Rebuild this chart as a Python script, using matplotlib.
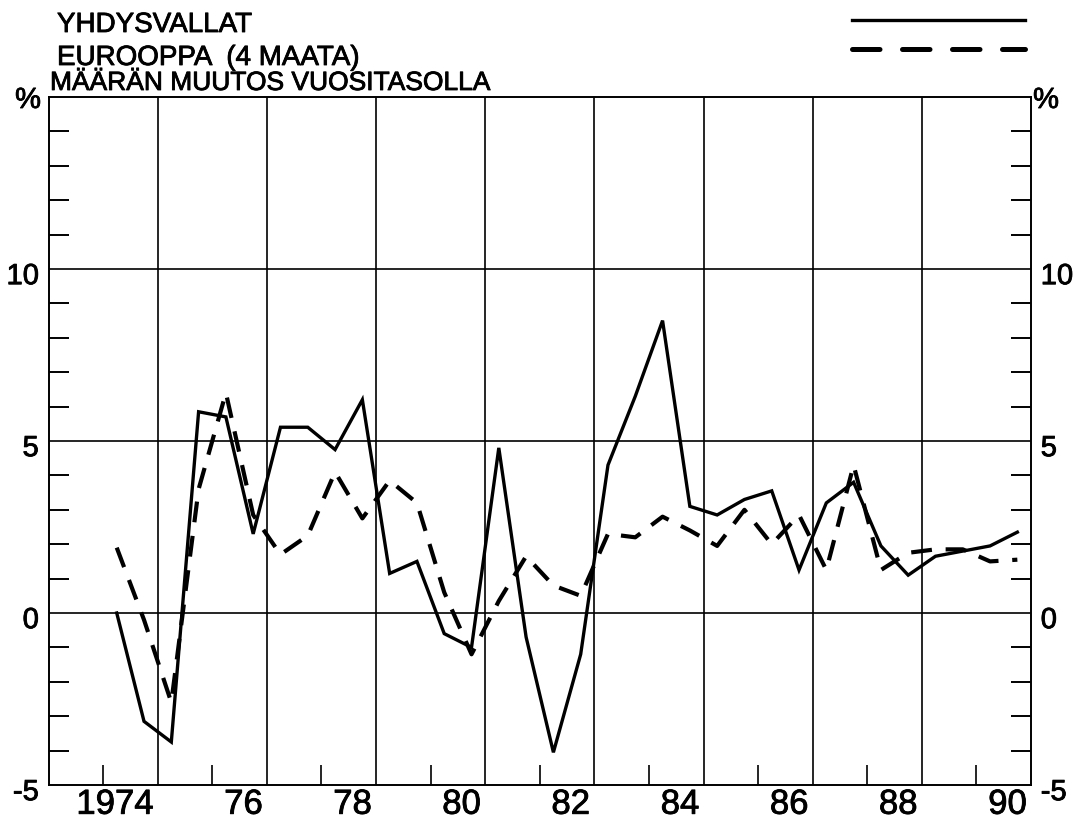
import matplotlib
matplotlib.use("Agg")
import matplotlib.pyplot as plt
import matplotlib.transforms as mtrans
import matplotlib.patheffects as pe
from matplotlib.lines import Line2D
import numpy as np

# puolivuosittaiset havainnot, sijoitettu puolivuoden keskelle
t = np.arange(1974.25, 1991.0, 0.5)

usa = [0.0, -3.15, -3.75, 5.85, 5.7, 2.3, 5.4, 5.4, 4.75, 6.2,
       1.15, 1.5, -0.6, -1.0, 4.8, -0.7, -4.05, -1.2, 4.3, 6.3,
       8.5, 3.1, 2.85, 3.3, 3.55, 1.25, 3.2, 3.8, 1.95, 1.1,
       1.65, 1.8, 1.95, 2.35]

eur = [1.9, -0.2, -2.6, 3.6, 6.4, 2.85, 1.7, 2.25, 4.1, 2.75,
       3.85, 3.2, 0.6, -1.2, 0.35, 1.65, 0.8, 0.5, 2.3, 2.2,
       2.8, 2.4, 1.95, 3.0, 2.0, 2.85, 1.25, 4.3, 1.25, 1.75,
       1.85, 1.85, 1.5, 1.55]

x_gridvuodet = [1975, 1977, 1979, 1981, 1983, 1985, 1987, 1989, 1991]
x_nimet = ['1974', '76', '78', '80', '82', '84', '86', '88', '90']
y_arvot = [-5, 0, 5, 10]
y_nimet = ['-5', '0', '5', '10']

plt.rcParams['font.family'] = ['Liberation Sans', 'DejaVu Sans']

W, H = 1078, 824
fig = plt.figure(figsize=(W / 100, H / 100), dpi=100)
ax = fig.add_axes([48.5 / W, 1 - 785 / H, (1031 - 48.5) / W, (785 - 97) / H])

ax.plot(t, usa, color='black', lw=2.4, solid_joinstyle='miter')
ax.plot(t, eur, color='black', lw=3.0, linestyle=(0, (5.0, 3.3)))

ax.set_xlim(1973, 1991)
ax.set_ylim(-5, 15)

# ruudukko
for g in x_gridvuodet[:-1]:
    ax.axvline(g, color='black', lw=1.2, zorder=0)
for v in [0, 5, 10]:
    ax.axhline(v, color='black', lw=1.2, zorder=0)

ax.set_xticks(x_gridvuodet)
ax.set_xticklabels(x_nimet, fontsize=25)
ax.set_xticks(np.arange(1974, 1991, 2), minor=True)
ax.tick_params(axis='x', which='major', length=0, pad=2)
ax.tick_params(axis='x', which='minor', direction='in', length=14.4, width=1.2)
siirto = mtrans.ScaledTranslation(-3 / 72, 0, fig.dpi_scale_trans)
for lbl in ax.get_xticklabels():
    lbl.set_ha('right')
    lbl.set_transform(lbl.get_transform() + siirto)

ax.set_yticks(y_arvot)
ax.set_yticklabels(y_nimet, fontsize=21)
ax.set_yticks([v for v in range(-4, 15) if v % 5 != 0], minor=True)
ax.tick_params(axis='y', which='major', length=0, pad=7, left=True, right=True,
               labelleft=True, labelright=True)
ax.tick_params(axis='y', which='minor', direction='in', length=14.4, width=1.4,
               left=True, right=True)
alas = mtrans.ScaledTranslation(0, -3 / 72, fig.dpi_scale_trans)
for tk in ax.yaxis.get_major_ticks():
    for lbl in (tk.label1, tk.label2):
        lbl.set_transform(lbl.get_transform() + alas)

for s in ax.spines.values():
    s.set_linewidth(1.4)

# otsikot
fig.text(57 / W, 1 - 32 / H, 'YHDYSVALLAT', fontsize=20, va='baseline')
fig.text(57 / W, 1 - 65 / H, 'EUROOPPA  (4 MAATA)', fontsize=20, va='baseline')
fig.text(50 / W, 1 - 90 / H, 'MÄÄRÄN MUUTOS VUOSITASOLLA', fontsize=19, va='baseline')
fig.text(28 / W, 1 - 100 / H, '%', fontsize=21, ha='center', va='center')
fig.text(1046 / W, 1 - 100 / H, '%', fontsize=21, ha='center', va='center')

# selitteen viivat
fig.add_artist(Line2D([852 / W, 1025 / W], [1 - 20 / H, 1 - 20 / H], color='black', lw=2.4))
fig.add_artist(Line2D([852 / W, 1025 / W], [1 - 49 / H, 1 - 49 / H], color='black', lw=3.6,
                      linestyle=(0, (5.5, 4.5)), dash_capstyle='round'))

# piirturimainen hieman paksumpi teksti
paksu = [pe.withStroke(linewidth=0.6, foreground='black')]
for txt in fig.texts + ax.get_xticklabels() + ax.get_yticklabels():
    txt.set_path_effects(paksu)
for tk in ax.yaxis.get_major_ticks():
    tk.label2.set_path_effects(paksu)

fig.savefig('out.png', dpi=100)
